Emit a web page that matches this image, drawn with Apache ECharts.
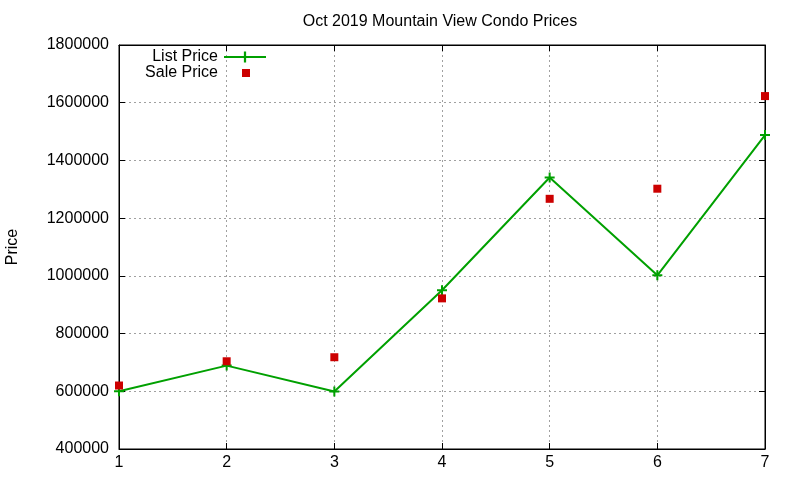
<!DOCTYPE html>
<html>
<head>
<meta charset="utf-8">
<script src="https://cdn.jsdelivr.net/npm/echarts@6/dist/echarts.min.js"></script>
<style>html,body{margin:0;padding:0;background:#fff}#c{width:800px;height:480px}</style>
</head>
<body>
<div id="c"></div>
<script>
const xValues = [1, 2, 3, 4, 5, 6, 7];
const listPrice = [600000, 689000, 599000, 950000, 1341000, 1002000, 1488000];
const salePrice = [620000, 704000, 718000, 922000, 1267000, 1302000, 1623000];
const yTicks = [400000, 600000, 800000, 1000000, 1200000, 1400000, 1600000, 1800000];

const FONT = 'Liberation Sans';
const plus = 'path://M4,0L6,0L6,4L10,4L10,6L6,6L6,10L4,10L4,6L0,6L0,4L4,4Z';

const chart = echarts.init(document.getElementById('c'));
const gridLine = { show: true, lineStyle: { color: '#a0a0a0', type: [2, 3], width: 1 } };
chart.setOption({
  backgroundColor: '#fff',
  animation: false,
  title: {
    text: 'Oct 2019 Mountain View Condo Prices',
    left: 435, top: 9, textAlign: 'center',
    textStyle: { fontFamily: FONT, fontSize: 16, fontWeight: 'normal', color: '#000' }
  },
  legend: [
    {
      data: ['List Price'], orient: 'vertical', align: 'right',
      right: 533, top: 49, itemWidth: 42, itemHeight: 14, padding: 0,
      textStyle: { fontFamily: FONT, fontSize: 16, color: '#000', padding: [0, 1, 0, 0] }
    },
    {
      data: [{ name: 'Sale Price', itemStyle: { color: '#cc0000', opacity: 1 } }], orient: 'vertical', align: 'right',
      right: 550, top: 65, itemWidth: 8, itemHeight: 8, padding: 0,
      textStyle: { fontFamily: FONT, fontSize: 16, color: '#000', padding: [0, 19, 0, 0] }
    }
  ],
  grid: { left: 119, right: 35, top: 45, bottom: 31, show: true, borderColor: '#000', borderWidth: 1,
    containLabel: false, outerBoundsMode: 'none' },
  xAxis: [
    {
      type: 'value', min: 1, max: 7, interval: 1,
      axisLine: { show: true, lineStyle: { color: '#000' } },
      axisTick: { show: true, inside: true, length: 6, lineStyle: { color: '#000' } },
      axisLabel: { fontFamily: FONT, fontSize: 16, color: '#000', margin: 6,
        formatter: v => xValues.indexOf(v) >= 0 ? String(v) : '' },
      splitLine: gridLine
    },
    {
      type: 'value', min: 1, max: 7, interval: 1, position: 'top',
      axisLine: { show: true, lineStyle: { color: '#000' } },
      axisTick: { show: true, inside: true, length: 6, lineStyle: { color: '#000' } },
      axisLabel: { show: false }, splitLine: { show: false }
    }
  ],
  yAxis: [
    {
      type: 'value', min: yTicks[0], max: yTicks[yTicks.length - 1], interval: 200000,
      name: 'Price', nameLocation: 'middle', nameGap: 98,
      nameTextStyle: { fontFamily: FONT, fontSize: 16, color: '#000' },
      axisLine: { show: true, lineStyle: { color: '#000' } },
      axisTick: { show: true, inside: true, length: 6, lineStyle: { color: '#000' } },
      axisLabel: { fontFamily: FONT, fontSize: 16, color: '#000', margin: 10, formatter: v => String(v) },
      splitLine: gridLine
    },
    {
      type: 'value', min: yTicks[0], max: yTicks[yTicks.length - 1], interval: 200000, position: 'right',
      axisLine: { show: true, lineStyle: { color: '#000' } },
      axisTick: { show: true, inside: true, length: 6, lineStyle: { color: '#000' } },
      axisLabel: { show: false }, splitLine: { show: false }
    }
  ],
  series: [
    {
      name: 'List Price', type: 'line',
      data: xValues.map((x, i) => [x, listPrice[i]]),
      symbol: plus, symbolSize: 10, showAllSymbol: true,
      lineStyle: { color: '#00a000', width: 2 },
      itemStyle: { color: '#00a000' },
      z: 3
    },
    {
      name: 'Sale Price', type: 'scatter',
      data: xValues.map((x, i) => [x, salePrice[i]]),
      symbol: 'rect', symbolSize: 8,
      itemStyle: { color: '#cc0000', opacity: 1 },
      z: 4
    }
  ]
});
</script>
</body>
</html>
